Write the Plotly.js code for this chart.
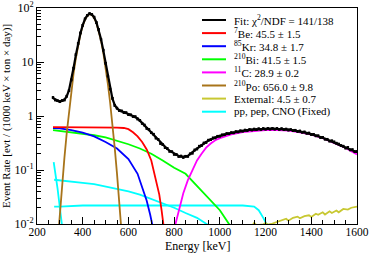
<!DOCTYPE html>
<html><head><meta charset="utf-8">
<script src="https://cdn.plot.ly/plotly-3.0.1.min.js"></script>
<style>html,body{margin:0;padding:0;background:#fff}#chart{width:374px;height:253px}</style>
</head><body><div id="chart"></div>
<script>
// ---- data ----
const energy = [270,280,290,300,310,320,330,340,350,360,370,380,390,400,410,420,430,440,450,460,470,480,490,500,510,520,530,540,550,560,570,580,590,600,610,620,630,640,650,660,670,680,690,700,710,720,730,740,750,760,770,780,790,800,810,820,830,840,850,860,870,880,890,900,910,920,930,940,950,960,970,980,990,1000,1010,1020,1030,1040,1050,1060,1070,1080,1090,1100,1110,1120,1130,1140,1150,1160,1170,1180,1190,1200,1210,1220,1230,1240,1250,1260,1270,1280,1290,1300,1310,1320,1330,1340,1350,1360,1370,1380,1390,1400,1410,1420,1430,1440,1450,1460,1470,1480,1490,1500,1510,1520,1530,1540,1550,1560,1570,1580,1590,1600];
const fitRate = [2.15,2.0,1.9,1.87,1.9,2.0,2.3,3.0,4.6,7.8,13.5,22.3,34.1,48.3,62.4,73.4,78.4,76.2,67.3,54.1,39.6,26.6,16.4,9.6,5.4,3.2,2.1,1.6,1.38,1.28,1.22,1.18,1.13,1.08,1.04,1.0,0.95,0.9,0.82,0.74,0.67,0.6,0.55,0.5,0.45,0.4,0.36,0.32,0.29,0.265,0.245,0.228,0.214,0.2,0.19,0.182,0.177,0.175,0.177,0.183,0.195,0.21,0.23,0.25,0.27,0.29,0.31,0.33,0.35,0.37,0.385,0.4,0.415,0.43,0.44,0.455,0.465,0.475,0.485,0.495,0.505,0.515,0.525,0.532,0.54,0.547,0.553,0.558,0.563,0.567,0.571,0.574,0.577,0.579,0.58,0.581,0.581,0.58,0.578,0.575,0.572,0.568,0.563,0.557,0.551,0.544,0.536,0.527,0.518,0.508,0.497,0.486,0.474,0.462,0.449,0.436,0.422,0.408,0.394,0.379,0.364,0.349,0.337,0.325,0.31,0.298,0.285,0.272,0.26,0.25,0.24,0.23,0.222,0.215];
const dataRate = [2.2,1.98,1.92,1.84,1.93,1.98,2.33,2.95,4.65,7.7,13.7,22.0,34.5,47.8,62.9,72.8,78.9,75.7,67.8,53.6,40.0,26.3,16.6,9.5,5.5,3.15,2.13,1.57,1.4,1.26,1.24,1.16,1.15,1.06,1.05,0.98,0.97,0.88,0.83,0.73,0.68,0.59,0.56,0.49,0.46,0.39,0.37,0.31,0.295,0.26,0.25,0.222,0.218,0.195,0.193,0.178,0.181,0.171,0.18,0.179,0.199,0.205,0.235,0.245,0.276,0.284,0.316,0.325,0.357,0.364,0.392,0.394,0.422,0.424,0.447,0.449,0.473,0.469,0.492,0.488,0.513,0.508,0.532,0.525,0.548,0.54,0.561,0.551,0.572,0.559,0.58,0.566,0.586,0.571,0.589,0.573,0.59,0.572,0.587,0.566,0.582,0.559,0.572,0.549,0.56,0.536,0.545,0.519,0.527,0.5,0.506,0.478,0.483,0.454,0.457,0.429,0.43,0.4,0.402,0.372,0.371,0.343,0.347,0.331,0.314,0.302,0.283,0.276,0.255,0.262,0.236,0.238,0.218,0.219];

const beE = [270,300,350,400,450,500,550,580,600,620,640,660,680,700,720,735,745,755,765];
const beRate = [0.62,0.62,0.62,0.62,0.62,0.615,0.61,0.6,0.57,0.5,0.42,0.33,0.24,0.15,0.07,0.035,0.018,0.009,0.004];
const krE = [270,300,350,400,450,500,550,600,640,660,680,695,705,715];
const krRate = [0.6,0.59,0.55,0.49,0.42,0.33,0.25,0.16,0.085,0.05,0.027,0.015,0.01,0.006];
const biE = [270,300,350,400,450,500,550,600,650,700,750,800,850,900,950,1000,1040,1060];
const biRate = [0.55,0.53,0.5,0.47,0.44,0.4,0.35,0.3,0.25,0.2,0.15,0.11,0.085,0.05,0.03,0.018,0.01,0.007];
const cE = [800,810,820,830,840,860,880,900,920,940,960,980,1000,1050,1100,1150,1200,1250,1300,1350,1400,1450,1500,1550,1600];
const cRate = [0.008,0.012,0.018,0.026,0.037,0.065,0.1,0.15,0.2,0.26,0.31,0.355,0.39,0.455,0.505,0.535,0.55,0.55,0.535,0.5,0.45,0.39,0.32,0.255,0.195];
const poE = [295,300,310,320,330,340,350,360,370,380,390,400,410,420,430,440,450,460,470,480,490,500,510,520,530,540,550,560,570];
const poRate = [0.008,0.0155,0.054,0.169,0.479,1.24,2.89,6.13,11.8,20.6,32.5,46.7,60.8,71.8,76.8,74.6,65.7,52.5,38.0,25.0,14.9,8.05,3.95,1.76,0.71,0.259,0.0858,0.0258,0.007];
const extE = [1140,1150,1160,1190,1200,1210,1230,1250,1270,1290,1300,1320,1340,1350,1370,1390,1400,1420,1430,1450,1460,1480,1490,1510,1520,1540,1560,1575,1600];
const extRate = [0.009,0.0105,0.0095,0.0098,0.0105,0.0097,0.0102,0.0108,0.0118,0.0125,0.0115,0.013,0.0137,0.0128,0.014,0.0145,0.0135,0.0155,0.0148,0.0165,0.015,0.0172,0.016,0.0178,0.0165,0.019,0.0185,0.02,0.021];
const ppE = [273,280,290,300,310];
const ppRate = [0.14,0.09,0.045,0.02,0.009];
const cnoE = [275,300,350,400,450,500,550,600,650,700,750,800,850,900,950];
const cnoRate = [0.066,0.064,0.062,0.058,0.055,0.05,0.045,0.04,0.035,0.029,0.024,0.02,0.016,0.013,0.0095];
const pepE = [275,300,400,500,600,700,800,900,1000,1100,1150,1170,1190,1200,1210];
const pepRate = [0.021,0.021,0.022,0.022,0.022,0.022,0.022,0.022,0.022,0.022,0.021,0.018,0.013,0.011,0.009];

const xTicks = [200,400,600,800,1000,1200,1400,1600];
const yTickVals = [0.01,0.1,1,10,100];
const yTickText = ['10<sup>-2</sup>','10<sup>-1</sup>','1','10','10<sup>2</sup>'];
const xTitle = 'Energy [keV]';
const yTitle = 'Event Rate [evt / (1000 keV × ton × day)]';

const legendLabels = ['Fit: χ<sup>2</sup>/NDF = 141/138','<sup>7</sup>Be: 45.5 ± 1.5','<sup>85</sup>Kr: 34.8 ± 1.7','<sup>210</sup>Bi: 41.5 ± 1.5','<sup>11</sup>C: 28.9 ± 0.2','<sup>210</sup>Po: 656.0 ± 9.8','External: 4.5 ± 0.7','pp, pep, CNO (Fixed)'];
const legendColors = ['#000000','#ff0000','#0000ff','#00ff00','#ff00ff','#a8741a','#c8c832','#00ffff'];

// ---- chart ----
const FONT = 'Liberation Serif, Times New Roman, serif';
function line(x, y, color, w) {
  return {x: x, y: y, type: 'scatter', mode: 'lines', line: {color: color, width: w || 1.8}, hoverinfo: 'skip'};
}
const traces = [
  line(ppE, ppRate, '#00ffff'),
  line(cnoE, cnoRate, '#00ffff'),
  line(pepE, pepRate, '#00ffff'),
  line(extE, extRate, '#c8c832'),
  line(biE, biRate, '#00ff00'),
  line(krE, krRate, '#0000ff'),
  line(beE, beRate, '#ff0000'),
  line(cE, cRate, '#ff00ff'),
  line(poE, poRate, '#a8741a'),
  {x: energy, y: dataRate, type: 'scatter', mode: 'markers',
   marker: {symbol: 'square', size: 2.5, color: '#000'},
   error_y: {type: 'percent', value: 3.5, thickness: 1, width: 1, color: '#000'}},
  line(energy, fitRate, '#000000', 2.2)
];

const L = 37, R = 17, T = 8, B = 29, W = 374, H = 253;
const pw = W - L - R, ph = H - T - B;
const shapes = [], annotations = [];
legendLabels.forEach((txt, i) => {
  const py = 20 + i * 13.1;
  const yp = (H - B - py) / ph;
  shapes.push({type: 'line', xref: 'paper', yref: 'paper', x0: (202 - L) / pw, x1: (226 - L) / pw, y0: yp, y1: yp,
               line: {color: legendColors[i], width: 2}});
  annotations.push({xref: 'paper', yref: 'paper', x: (232 - L) / pw, y: yp, xanchor: 'left', yanchor: 'middle',
                    text: txt, showarrow: false, font: {family: FONT, size: 11, color: '#000'}});
});
annotations.push({xref: 'paper', yref: 'paper', x: 0.5, y: (H - B - 255) / ph, xanchor: 'center', yanchor: 'bottom',
                  text: xTitle, showarrow: false, font: {family: FONT, size: 12, color: '#000'}});

const layout = {
  width: W, height: H,
  margin: {l: L, r: R, t: T, b: B, pad: 0},
  paper_bgcolor: '#fff', plot_bgcolor: '#fff',
  showlegend: false,
  font: {family: FONT, size: 12, color: '#000'},
  xaxis: {
    range: [200, 1600], tickvals: xTicks, ticks: 'inside', ticklen: 7, tickcolor: '#000',
    showline: true, mirror: true, linecolor: '#000', linewidth: 1, showgrid: false, zeroline: false,
    minor: {dtick: 50, ticks: 'inside', ticklen: 4, tickcolor: '#000', showgrid: false},
    tickfont: {family: FONT, size: 11.5}, ticklabelstandoff: -3
  },
  yaxis: {
    type: 'log', range: [-2, 2], tickvals: yTickVals, ticktext: yTickText,
    ticks: 'inside', ticklen: 7, tickcolor: '#000',
    showline: true, mirror: true, linecolor: '#000', linewidth: 1, showgrid: false, zeroline: false,
    minor: {dtick: 'D1', ticks: 'inside', ticklen: 4, tickcolor: '#000', showgrid: false},
    tickfont: {family: FONT, size: 12},
    title: {text: yTitle, font: {family: FONT, size: 11}, standoff: 4}
  },
  shapes: shapes,
  annotations: annotations
};
Plotly.newPlot('chart', traces, layout, {staticPlot: true, displayModeBar: false});
</script>
</body></html>
